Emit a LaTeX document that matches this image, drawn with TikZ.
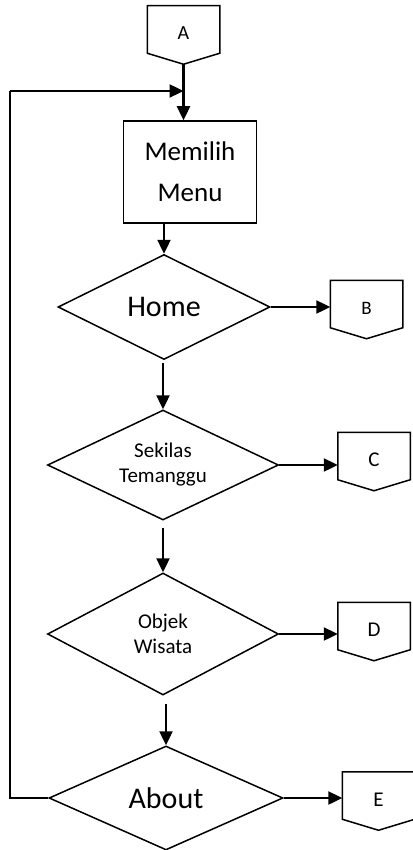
\documentclass[tikz,border=0pt]{standalone}
\usepackage{fontspec}
\setmainfont{Carlito}
\usetikzlibrary{shapes.geometric,arrows.meta}

\begin{document}
\begin{tikzpicture}[x=1pt,y=-1pt,line width=1.5pt,
  proses/.style={draw,rectangle,minimum width=133pt,minimum height=102pt,align=center,font=\fontsize{27}{41}\selectfont},
  pilihan/.style={draw,diamond,aspect=2,inner sep=0pt,align=center},
  konektor/.style={rectangle,minimum width=71pt,minimum height=46pt,inner sep=0pt},
  huruf/.style={yshift=-4pt},
  panah/.style={-{Triangle[length=14pt,width=13pt]},line width=2.4pt}]
  \useasboundingbox (0,0) rectangle (412,850);

  % Connector on top and the menu box
  \node[konektor] (A) at (183.5,29.5) {};
  \node[huruf,font=\fontsize{20}{24}\selectfont] (Ahuruf) at (A) {A};
  \node[proses] (menu) at (190,172) {Memilih\\Menu};

  % Draw the choices
  \node[pilihan,minimum width=212pt,minimum height=105pt,font=\fontsize{30}{36}\selectfont] (home) at (164,307) {Home};
  \node[pilihan,minimum width=231pt,minimum height=110pt,font=\fontsize{21}{25}\selectfont] (sekilas) at (163,465) {Sekilas\\Temanggu};
  \node[pilihan,minimum width=231pt,minimum height=122pt,font=\fontsize{21}{25}\selectfont] (objek) at (163,634) {Objek\\Wisata};
  \node[pilihan,minimum width=234pt,minimum height=104pt,font=\fontsize{30}{36}\selectfont] (about) at (166,798) {About};

  % Off-page connectors on the right
  \foreach \n/\x/\y/\s in {B/366.5/304/19, C/374/456/21, D/374/626/21, E/378.5/795.5/21} {
    \node[konektor] (\n) at (\x,\y) {};
    \node[huruf,font=\fontsize{\s}{24}\selectfont] (\n huruf) at (\n) {\n};
  }

  \foreach \n in {A,B,C,D,E} {
    \draw (\n.south west) -- (\n.north west) -- (\n.north east) -- (\n.south east)
      -- ([yshift=-11pt]\n.south) -- cycle;
  }

  % Draw arrows
  \coordinate (Atip) at ([yshift=-11pt]A.south);
  \coordinate (loop) at (Atip |- 0,91);
  \coordinate (sudut) at (10,91);
  \draw[panah] (Atip) -- (Atip |- menu.north);
  \draw[panah] (home.north |- menu.south) -- (home.north);
  \draw[panah] ([yshift=-3pt]sekilas.north |- home.south) -- (sekilas.north);
  \draw[panah] ([yshift=-7pt]objek.north |- sekilas.south) -- (objek.north);
  \draw[panah] ([yshift=-8pt]about.north |- objek.south) -- (about.north);

  \foreach \from/\to in {home/B, sekilas/C, objek/D, about/E} {
    \draw[panah] (\from.east) -- (\from.east -| \to.west);
  }

  % back to menu
  \draw[line width=2pt] (about.west) -| (sudut);
  \draw[panah] (sudut) -- (loop);
\end{tikzpicture}
\end{document}
